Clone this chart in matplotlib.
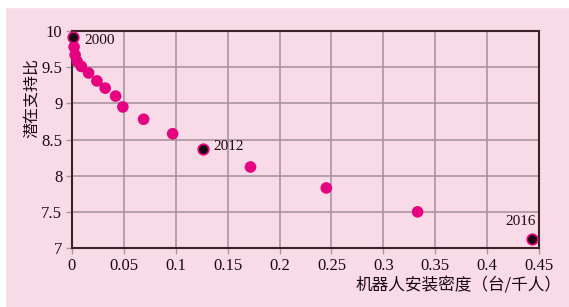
import matplotlib.pyplot as plt
from matplotlib.patches import Rectangle

# robot density (units per 1000 people) vs potential support ratio, 2000-2016
years = list(range(2000, 2017))
density = [0.001, 0.002, 0.003, 0.005, 0.009, 0.016, 0.024, 0.032, 0.042, 0.049,
           0.069, 0.097, 0.126, 0.172, 0.245, 0.333, 0.443]
support = [9.92, 9.78, 9.67, 9.58, 9.51, 9.42, 9.31, 9.21, 9.10, 8.95,
           8.78, 8.58, 8.37, 8.12, 7.83, 7.50, 7.12]
labelled = [2000, 2012, 2016]

xticks = [0, 0.05, 0.1, 0.15, 0.2, 0.25, 0.3, 0.35, 0.4, 0.45]
xticklabels = ['0', '0.05', '0.1', '0.15', '0.2', '0.25', '0.3', '0.35', '0.4', '0.45']
yticks = [7, 7.5, 8, 8.5, 9, 9.5, 10]
yticklabels = ['7', '7.5', '8', '8.5', '9', '9.5', '10']

pink = '#f9dbe8'
magenta = '#e5007f'
dark = '#3a2228'
gridc = '#a8959f'
serif = ['Liberation Serif', 'DejaVu Serif']
cjk = ['Noto Sans CJK SC', 'DejaVu Sans']

fig = plt.figure(figsize=(5.69, 3.07), dpi=100, facecolor=pink)
# white margins at left and top of the original
fig.patches.append(Rectangle((0, 0), 5 / 569, 1, transform=fig.transFigure, color='white', zorder=-1))
fig.patches.append(Rectangle((0, 1 - 7 / 307), 1, 7 / 307, transform=fig.transFigure, color='white', zorder=-1))

ax = fig.add_axes([72 / 569, 1 - 248 / 307, 467 / 569, 217 / 307])
ax.set_facecolor(pink)

for x, y, yr in zip(density, support, years):
    if yr in labelled:
        ax.scatter(x, y, s=58, color='#1a0a10', edgecolors=magenta, linewidths=1.2, zorder=4, clip_on=False)
    else:
        ax.scatter(x, y, s=70, color=magenta, edgecolors='none', zorder=3, clip_on=False)

ax.annotate('2000', (density[0], support[0]), xytext=(8, -5), textcoords='offset points',
            fontsize=11, family=serif, color='#1a0a10')
ax.annotate('2012', (density[12], support[12]), xytext=(8, -1), textcoords='offset points',
            fontsize=11, family=serif, color='#1a0a10')
ax.annotate('2016', (density[16], support[16]), xytext=(-19, 10), textcoords='offset points',
            fontsize=11, family=serif, color='#1a0a10')

ax.set_xlim(0, 0.45)
ax.set_ylim(7, 10)
ax.set_xticks(xticks)
ax.set_xticklabels(xticklabels, family=serif, fontsize=12, color='#1a0a10')
ax.set_yticks(yticks)
ax.set_yticklabels(yticklabels, family=serif, fontsize=12, color='#1a0a10')
ax.tick_params(length=4, width=1, color=gridc, pad=3)
ax.grid(True, color=gridc, linewidth=1.2)
ax.set_axisbelow(True)
for s in ax.spines.values():
    s.set_color(dark)
    s.set_linewidth(1.5)

fig.text(356 / 569, 1 - 286 / 307, '机器人安装密度（台/千人）', family=cjk, fontsize=12,
         color='#1a0a10', va='center', ha='left')
fig.text(31 / 569, 1 - 98 / 307, '潜在支持比', family=cjk, fontsize=11.5, rotation=90,
         color='#1a0a10', va='center', ha='center')

fig.savefig('out.png', dpi=100, facecolor=pink)
